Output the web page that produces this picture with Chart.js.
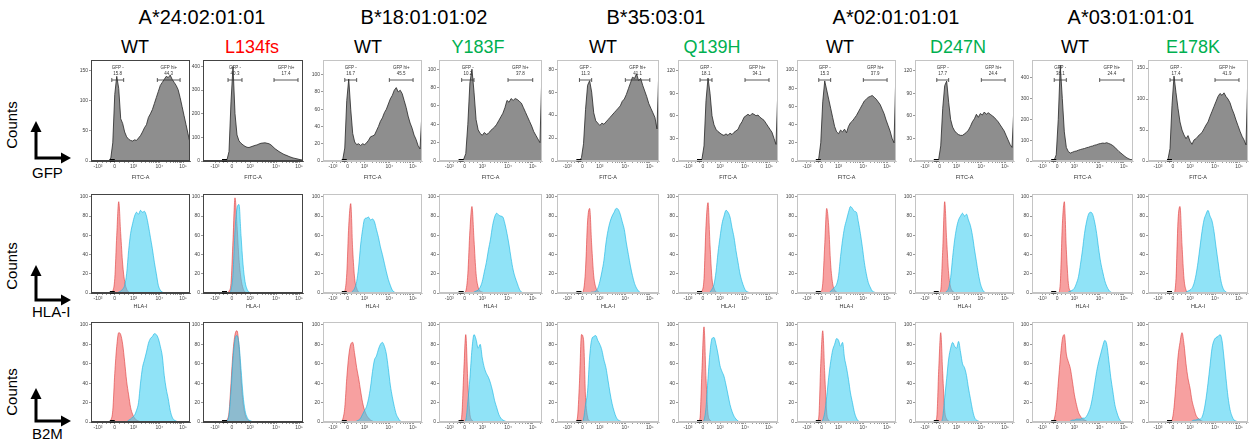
<!DOCTYPE html>
<html>
<head>
<meta charset="utf-8">
<script src="https://cdn.jsdelivr.net/npm/chart.js@4.4.1/dist/chart.umd.min.js"></script>
<style>
  body { margin:0; width:1249px; height:444px; background:#fff; position:relative; overflow:hidden;
         font-family:"Liberation Sans", Arial, sans-serif; }
  canvas { position:absolute; }
  .lbl { position:absolute; white-space:nowrap; line-height:1; transform:translate(-50%,-50%); }
  .left { position:absolute; white-space:nowrap; line-height:1; transform:translateY(-50%); font-size:15px; }
  .rot { position:absolute; white-space:nowrap; line-height:1; font-size:15px; transform:translate(-50%,-50%) rotate(-90deg); }
</style>
</head>
<body>
<svg width="90" height="444" style="position:absolute;left:0;top:0">
  <g stroke="#000" stroke-width="3" fill="none" stroke-linejoin="miter">
    <polyline points="36,131 36,158 62,158"/>
    <polyline points="36,275 36,300 62,300"/>
    <polyline points="36,398 36,421 62,421"/>
  </g>
  <g fill="#000">
    <polygon points="30.5,132 41.5,132 36,121"/>
    <polygon points="61,152.5 61,163.5 71,158"/>
    <polygon points="30.5,276 41.5,276 36,265"/>
    <polygon points="61,294.5 61,305.5 71,300"/>
    <polygon points="30.5,399 41.5,399 36,388"/>
    <polygon points="61,415.5 61,426.5 71,421"/>
  </g>
</svg>
<div class="rot" style="left:11px;top:125px">Counts</div>
<div class="rot" style="left:11px;top:266px">Counts</div>
<div class="rot" style="left:11px;top:392px">Counts</div>
<div class="left" style="left:32px;top:172px">GFP</div>
<div class="left" style="left:32px;top:311px">HLA-I</div>
<div class="left" style="left:32px;top:433px">B2M</div>

<script>
// ---- data ----
const alleles = ['A*24:02:01:01', 'B*18:01:01:02', 'B*35:03:01', 'A*02:01:01:01', 'A*03:01:01:01'];
const variants = ['WT', 'L134fs', 'WT', 'Y183F', 'WT', 'Q139H', 'WT', 'D247N', 'WT', 'E178K'];
const gfpNeg = ['15.8', '40.3', '16.7', '10.2', '11.3', '18.1', '15.3', '17.7', '38.1', '17.4'];
const gfpHi = ['44.3', '17.4', '45.5', '37.8', '41.1', '34.1', '37.9', '24.4', '24.4', '41.9'];
const gfpMax = [167, 427, 117, 110, 88, 134, 111, 134, 485, 163];
const gfpStep = [50, 100, 20, 20, 20, 30, 20, 30, 100, 50];
const histMax = 103;
const xTickVals = ['-10³', '0', '10³', '10⁴', '10⁵'];

// display channel bins (0..100)
const bins = [0,2,4,6,8,10,12,14,16,18,20,22,24,26,28,30,32,34,36,38,40,42,44,46,48,50,
              52,54,56,58,60,62,64,66,68,70,72,74,76,78,80,82,84,86,88,90,92,94,96,98,100];

const gfp1 = [0,0,0,0,0, 0,0,0,0,0, 5,30,110,140,120, 70,62,48,40,36, 34,33,35,34,38, 42,48,55,60,72, 78,85,95,105,115, 125,130,135,140,138, 142,135,130,125,118, 105,90,75,60,45, 30];
const gfp2 = [0,0,0,0,0, 0,0,0,0,0, 0,0,5,40,250, 400,200,110,85,75, 68,62,58,57,60, 63,66,68,72,75, 76,77,75,73,68, 60,52,46,40,35, 30,26,23,19,16, 13,11,9,7,5, 4];
const gfp3 = [0,0,0,0,0, 0,0,0,0,0, 2,15,70,95,60, 32,22,19,20,18, 20,19,21,24,28, 29,30,35,40,46, 50,56,60,66,72, 76,82,85,80,82, 78,70,62,52,44, 38,30,25,18,14, 57];
const gfp4 = [0,0,0,0,0, 0,0,0,0,0, 0,0,2,8,40, 85,100,75,45,34, 30,28,31,29,30, 33,35,37,40,44, 48,52,58,66,64, 68,66,68,67,65, 63,58,53,48,43, 38,32,28,24,20, 100];
const gfp5 = [0,0,0,0,0, 0,0,0,0,0, 0,0,3,15,45, 66,70,60,42,35, 33,31,33,32,34, 36,38,40,42,44, 46,48,52,54,58, 63,68,73,72,76, 70,72,66,61,56, 50,46,42,38,28, 84];
const gfp6 = [0,0,0,0,0, 0,0,0,0,0, 0,0,3,20,80, 110,90,60,48,42, 39,37,35,34,36, 34,37,35,38,40, 42,48,52,58,60, 62,60,63,62,60, 61,58,56,54,50, 46,42,38,30,22, 100];
const gfp7 = [0,0,0,0,0, 0,0,0,0,0, 0,3,20,65,88, 78,68,58,48,38, 32,30,34,32,35, 31,38,42,44,47, 50,54,58,62,66, 68,70,71,72,70, 68,65,62,57,52, 45,39,33,25,20, 102];
const gfp8 = [0,0,0,0,0, 0,0,0,0,0, 0,0,3,20,70, 100,106,78,55,45, 40,37,35,34,34, 36,38,41,46,52, 56,62,58,63,61, 65,62,64,62,60, 58,55,52,48,44, 40,34,28,22,18, 74];
const gfp9 = [0,0,0,0,0, 0,0,0,0,0, 0,5,30,200,460, 300,140,65,45,38, 42,46,48,52,55, 58,60,64,66,70, 72,76,78,82,84, 86,85,88,84,80, 74,66,56,46,38, 30,22,15,10,6, 8];
const gfp10 = [0,0,0,0,0, 0,0,0,0,0, 3,20,90,137,110, 85,63,50,42,36, 41,32,27,34,36, 40,43,46,52,58, 63,72,80,88,96, 104,109,106,110,104, 100,94,84,76,66, 57,48,40,34,26, 147];

const hlaRed1 = [0,0,0,0,0, 0,0,0,0,0, 0,2,15,60,95, 62,30,12,4,1, 0];
const hlaBlue1 = [0,0,0,0,0, 0,0,0,0,0, 0,0,0,0,1, 2,4,8,20,44, 62,72,80,84,82, 86,84,85,80,70, 58,46,32,20,8, 3,1,0];
const hlaRed2 = [0,0,0,0,0, 0,0,0,0,0, 0,0,0,2,10, 55,99,70,35,15, 5,1,0];
const hlaBlue2 = [0,0,0,0,0, 0,0,0,0,0, 0,0,0,0,3, 20,65,88,92,60, 30,12,4,1,0];
const hlaRed3 = [0,0,0,0,0, 0,0,0,0,0, 0,2,20,70,93, 45,15,5,1,0];
const hlaBlue3 = [0,0,0,0,0, 0,0,0,0,0, 0,0,0,0,0, 2,5,12,27,50, 66,77,78,79,76, 77,74,66,58,48, 40,31,22,14,8, 3,1,0];
const hlaRed4 = [0,0,0,0,0, 0,0,0,0,0, 0,0,0,2,20, 65,90,55,20,6, 2,1,0];
const hlaBlue4 = [0,0,0,0,0, 0,0,0,0,0, 0,0,0,0,0, 0,0,1,2,3, 6,12,22,32,45, 56,70,79,83,81, 80,79,72,62,50, 36,24,16,10,4, 1,0];
const hlaRed5 = [0,0,0,0,0, 0,0,0,0,0, 0,0,0,3,25, 75,88,50,18,6, 2,0];
const hlaBlue5 = [0,0,0,0,0, 0,0,0,0,0, 0,0,0,0,0, 0,0,1,1,2, 5,12,22,34,52, 65,74,80,84,88, 87,82,74,66,52, 40,28,18,10,5, 2,0];
const hlaRed6 = [0,0,0,0,0, 0,0,0,0,0, 0,0,2,15,70, 94,50,15,5,1, 0];
const hlaBlue6 = [0,0,0,0,0, 0,0,0,0,0, 0,0,0,0,0, 0,1,4,9,22, 42,58,72,80,86, 84,79,68,58,44, 32,20,12,6,2, 1,0];
const hlaRed7 = [0,0,0,0,0, 0,0,0,0,0, 0,0,1,10,50, 88,70,30,10,3, 1,0];
const hlaBlue7 = [0,0,0,0,0, 0,0,0,0,0, 0,0,0,0,0, 0,0,2,4,6, 9,18,38,55,68, 76,84,90,88,85, 84,74,62,48,32, 20,11,6,2,1, 0];
const hlaRed8 = [0,0,0,0,0, 0,0,0,0,0, 0,0,0,3,45, 95,55,20,6,2, 0];
const hlaBlue8 = [0,0,0,0,0, 0,0,0,0,0, 0,0,0,0,0, 0,2,5,16,37, 55,68,76,80,83, 80,82,76,70,60, 46,33,20,10,4, 1,0];
const hlaRed9 = [0,0,0,0,0, 0,0,0,0,0, 0,0,0,0,10, 70,95,45,10,2, 0];
const hlaBlue9 = [0,0,0,0,0, 0,0,0,0,0, 0,0,0,0,0, 0,0,0,1,2, 3,5,10,17,30, 45,62,74,82,84, 82,74,62,46,32, 22,13,7,3,1, 0];
const hlaRed10 = [0,0,0,0,0, 0,0,0,0,0, 0,0,0,0,15, 75,90,50,15,3, 0];
const hlaBlue10 = [0,0,0,0,0, 0,0,0,0,0, 0,0,0,0,0, 0,0,0,0,1, 2,3,5,10,19, 32,48,64,76,82, 86,80,75,64,48, 33,18,8,3,1, 0];

const b2mRed1 = [0,0,0,0,0, 0,0,0,0,0, 2,12,50,78,92, 90,80,62,42,28, 15,8,4,2,1, 0];
const b2mBlue1 = [0,0,0,0,0, 0,0,0,0,0, 0,0,0,0,0, 0,0,0,0,2, 3,5,7,12,20, 40,56,64,72,81, 86,88,91,90,86, 78,68,48,34,24, 12,5,2,1,0];
const b2mRed2 = [0,0,0,0,0, 0,0,0,0,0, 0,0,2,10,40, 72,90,94,78,45, 20,8,3,1,0];
const b2mBlue2 = [0,0,0,0,0, 0,0,0,0,0, 0,0,1,7,32, 65,85,89,80,55, 28,12,5,2,1, 0];
const b2mRed3 = [0,0,0,0,0, 0,0,0,0,0, 3,15,45,68,80, 82,70,56,45,32, 20,12,7,4,2, 1,0];
const b2mBlue3 = [0,0,0,0,0, 0,0,0,0,0, 0,0,0,0,0, 0,0,1,2,4, 8,12,16,24,36, 52,64,68,75,80, 82,78,70,55,38, 26,16,8,4,1, 0];
const b2mRed4 = [0,0,0,0,0, 0,0,0,0,0, 0,5,50,90,40, 8,2,0];
const b2mBlue4 = [0,0,0,0,0, 0,0,0,0,0, 0,0,0,2,21, 45,75,90,85,76, 80,66,56,50,46, 40,32,22,15,8, 4,2,1,0];
const b2mRed5 = [0,0,0,0,0, 0,0,0,0,0, 4,40,90,85,25, 5,1,0];
const b2mBlue5 = [0,0,0,0,0, 0,0,0,0,0, 0,0,0,3,18, 32,67,85,88,89, 84,80,74,64,56, 43,30,19,11,5, 2,1,0];
const b2mRed6 = [0,0,0,0,0, 0,0,0,0,0, 0,4,55,98,45, 8,2,0];
const b2mBlue6 = [0,0,0,0,0, 0,0,0,0,0, 0,0,0,2,15, 45,72,86,87,80, 70,58,52,47,38, 28,18,11,6,3, 1,0];
const b2mRed7 = [0,0,0,0,0, 0,0,0,0,0, 0,5,60,94,50, 10,2,0];
const b2mBlue7 = [0,0,0,0,0, 0,0,0,0,0, 0,0,0,2,10, 26,46,62,74,80, 86,84,78,82,66, 56,44,30,20,10, 4,1,0];
const b2mRed8 = [0,0,0,0,0, 0,0,0,0,0, 0,5,55,92,50, 12,3,1,0];
const b2mBlue8 = [0,0,0,0,0, 0,0,0,0,0, 0,0,0,0,5, 25,45,65,76,82, 78,76,83,72,60, 56,48,35,24,13, 5,2,1,0];
const b2mRed9 = [0,0,0,0,0, 0,0,0,0,0, 0,3,15,40,65, 85,90,70,62,55, 42,28,18,10,6, 3,2,1,0];
const b2mBlue9 = [0,0,0,0,0, 0,0,0,0,0, 0,0,0,0,0, 0,0,0,0,1, 2,2,3,3,3, 4,4,6,10,16, 26,39,52,62,70, 78,84,80,64,46, 32,18,10,4,1, 0];
const b2mRed10 = [0,0,0,0,0, 0,0,0,0,0, 0,0,2,15,40, 67,82,92,80,60, 45,35,22,14,7, 4,2,1,0];
const b2mBlue10 = [0,0,0,0,0, 0,0,0,0,0, 0,0,0,0,0, 0,0,0,0,0, 0,0,1,2,2, 3,3,5,12,24, 40,58,76,84,87, 88,90,84,66,45, 26,13,6,2,1, 0];

const gfpSeries = [gfp1, gfp2, gfp3, gfp4, gfp5, gfp6, gfp7, gfp8, gfp9, gfp10];
const hlaRed = [hlaRed1, hlaRed2, hlaRed3, hlaRed4, hlaRed5, hlaRed6, hlaRed7, hlaRed8, hlaRed9, hlaRed10];
const hlaBlue = [hlaBlue1, hlaBlue2, hlaBlue3, hlaBlue4, hlaBlue5, hlaBlue6, hlaBlue7, hlaBlue8, hlaBlue9, hlaBlue10];
const b2mRed = [b2mRed1, b2mRed2, b2mRed3, b2mRed4, b2mRed5, b2mRed6, b2mRed7, b2mRed8, b2mRed9, b2mRed10];
const b2mBlue = [b2mBlue1, b2mBlue2, b2mBlue3, b2mBlue4, b2mBlue5, b2mBlue6, b2mBlue7, b2mBlue8, b2mBlue9, b2mBlue10];

// ---- layout ----
const colLeft = [91, 203, 323, 439, 557, 678, 797, 915, 1032, 1148];
const colW = [99, 100, 99, 103, 102, 100, 99, 99, 101, 100];
const rowTop = [60, 194, 322];
const rowBot = [161, 293, 422];
const std = [10, 25, 42, 67, 91];
const xTickPos = [[7, 24, 43, 69, 93], [12, 29, 47, 73, 96], std, std, std, std, std, std, std, std];
const gateStd = [[22, 34], [67, 91]];
const gateRange = [[[21, 33], [67, 90]], [[25, 39], [71, 95]], gateStd, gateStd, gateStd, gateStd, gateStd, gateStd, gateStd, gateStd];
const headX = [202, 424, 656, 896, 1131];
const varX = [135, 252, 368, 478, 603, 712, 840, 958, 1075, 1193];
const varColor = ['#000', '#ff0000', '#000', '#00b050', '#000', '#00b050', '#000', '#00b050', '#000', '#00b050'];

Chart.defaults.font.family = '"Liberation Sans", Arial, sans-serif';

alleles.forEach((a, i) => {
  const d = document.createElement('div');
  d.className = 'lbl'; d.textContent = a;
  d.style.cssText = 'left:' + headX[i] + 'px;top:17px;font-size:20px';
  document.body.appendChild(d);
});
variants.forEach((v, i) => {
  const d = document.createElement('div');
  d.className = 'lbl'; d.textContent = v;
  d.style.cssText = 'left:' + varX[i] + 'px;top:47px;font-size:18px;color:' + varColor[i];
  document.body.appendChild(d);
});

const deco = {
  id: 'deco',
  afterDatasetsDraw(chart, args, o) {
    const { ctx, chartArea: a, scales: { x } } = chart;
    ctx.save();
    const b1 = x.getPixelForValue(19), b2 = x.getPixelForValue(24);
    ctx.fillStyle = '#000';
    ctx.fillRect(b1, a.bottom - 2, b2 - b1, 2.5);
    ctx.strokeStyle = '#333'; ctx.fillStyle = '#333'; ctx.lineWidth = 0.8;
    ctx.font = '4.5px "Liberation Sans"'; ctx.textAlign = 'center'; ctx.textBaseline = 'middle';
    (o.gates || []).forEach(g => {
      const x1 = x.getPixelForValue(g[0]), x2 = x.getPixelForValue(g[1]), y = a.top + 20;
      ctx.beginPath();
      ctx.moveTo(x1, y); ctx.lineTo(x2, y);
      ctx.moveTo(x1, y - 2); ctx.lineTo(x1, y + 2);
      ctx.moveTo(x2, y - 2); ctx.lineTo(x2, y + 2);
      ctx.stroke();
      const m = (x1 + x2) / 2;
      ctx.fillText(g[2], m, a.top + 8);
      ctx.fillText(g[3], m, a.top + 13.5);
    });
    ctx.restore();
  },
  afterDraw(chart, args, o) {
    const { ctx, chartArea: a } = chart;
    ctx.save();
    ctx.strokeStyle = o.frame; ctx.lineWidth = 1;
    ctx.strokeRect(a.left + 0.5, a.top + 0.5, a.right - a.left - 1, a.bottom - a.top - 1);
    ctx.restore();
  }
};
Chart.register(deco);

function pts(vals) { return vals.map((v, i) => ({ x: bins[i], y: v })); }

function buildTicks(p) {
  const t = p.slice();
  [0.25, 0.5, 0.75].forEach(k => { t.push(p[0] + (p[1] - p[0]) * k, p[1] + (p[2] - p[1]) * k); });
  for (let m = 2; m <= 9; m++) {
    t.push(p[2] + Math.log10(m) * (p[3] - p[2]), p[3] + Math.log10(m) * (p[4] - p[3]));
    const v = p[4] + Math.log10(m) * (p[4] - p[3]);
    if (v <= 100) t.push(v);
  }
  return t.sort((a, b) => a - b);
}

function panel(row, col, datasets, ymax, step, gates) {
  const axisH = row === 0 ? 20 : row === 1 ? 17 : 12;
  const w = colW[col] + 22, h = rowBot[row] - rowTop[row] + 4 + axisH;
  const c = document.createElement('canvas');
  c.width = w; c.height = h;
  c.style.left = (colLeft[col] - 18) + 'px';
  c.style.top = (rowTop[row] - 4) + 'px';
  c.style.width = w + 'px'; c.style.height = h + 'px';
  document.body.appendChild(c);
  const p = xTickPos[col];
  const frame = col < 2 ? '#444' : '#c4c4c4';
  new Chart(c, {
    type: 'line',
    data: { datasets },
    options: {
      responsive: false, animation: false, devicePixelRatio: 1,
      layout: { padding: { top: 4, right: 4, left: 0, bottom: 0 } },
      plugins: { legend: { display: false }, tooltip: { enabled: false }, deco: { gates, frame } },
      elements: { point: { radius: 0 } },
      scales: {
        x: {
          type: 'linear', min: 0, max: 100,
          afterBuildTicks: s => { s.ticks = buildTicks(p).map(v => ({ value: v })); },
          afterFit: s => { s.height = axisH; },
          ticks: {
            autoSkip: false, maxRotation: 0, font: { size: 5 }, color: '#444', padding: 1,
            callback: v => { const k = p.findIndex(q => Math.abs(q - v) < 1e-6); return k < 0 ? '' : xTickVals[k]; }
          },
          grid: { drawOnChartArea: false, tickLength: 2, color: '#555', lineWidth: 0.6 },
          border: { color: frame },
          title: { display: row < 2, text: row === 0 ? 'FITC-A' : 'HLA-I', font: { size: 5.5 }, color: '#333', padding: { top: 2, bottom: 0 } }
        },
        y: {
          min: 0, max: ymax,
          afterFit: s => { s.width = 18; },
          ticks: { stepSize: step, includeBounds: false, font: { size: 5 }, color: '#444', padding: 1 },
          grid: { drawOnChartArea: false, tickLength: 2, color: '#555', lineWidth: 0.6 },
          border: { color: frame }
        }
      }
    }
  });
}

function histPair(red, blue) {
  return [
    { data: pts(red), fill: 'origin', backgroundColor: 'rgba(242,96,96,0.6)', borderColor: 'rgba(222,55,55,0.85)',
      borderWidth: 0.7, cubicInterpolationMode: 'monotone', order: 2 },
    { data: pts(blue), fill: 'origin', backgroundColor: 'rgba(64,206,242,0.58)', borderColor: 'rgba(25,182,226,0.9)',
      borderWidth: 0.7, cubicInterpolationMode: 'monotone', order: 1 }
  ];
}

for (let i = 0; i < 10; i++) {
  const g = gateRange[i];
  panel(0, i, [{ data: pts(gfpSeries[i]), fill: 'origin', backgroundColor: '#8e8e8e', borderColor: '#262626',
                 borderWidth: 0.8, tension: 0 }],
        gfpMax[i], gfpStep[i],
        [[g[0][0], g[0][1], 'GFP -', gfpNeg[i]], [g[1][0], g[1][1], 'GFP hi+', gfpHi[i]]]);
  panel(1, i, histPair(hlaRed[i], hlaBlue[i]), histMax, 20, []);
  panel(2, i, histPair(b2mRed[i], b2mBlue[i]), histMax, 20, []);
}
</script>
</body>
</html>
